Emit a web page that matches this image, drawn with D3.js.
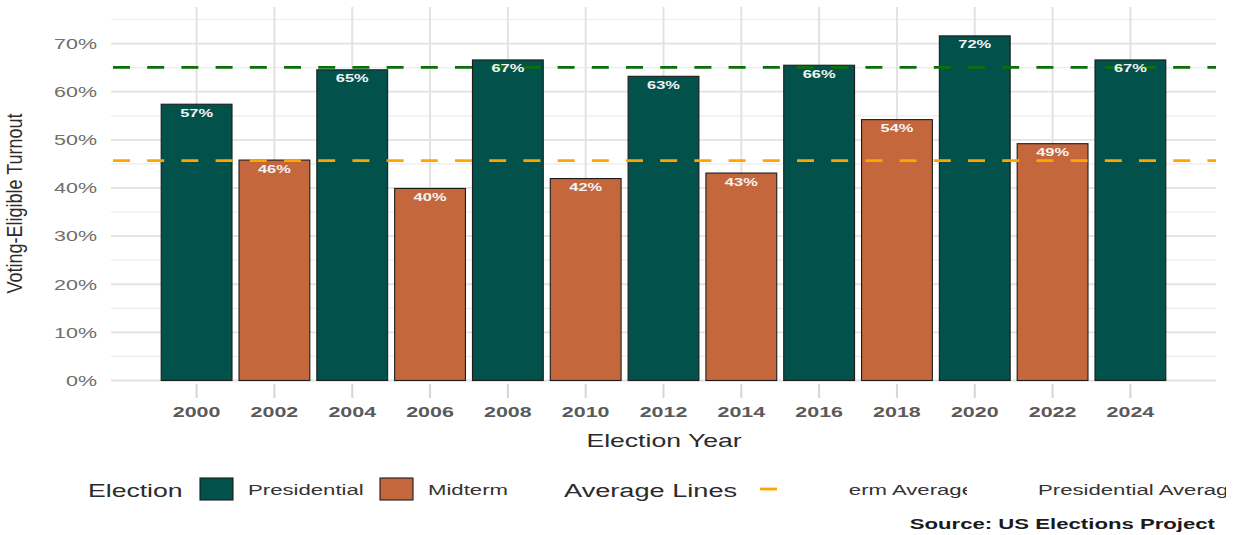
<!DOCTYPE html>
<html>
<head>
<meta charset="utf-8">
<script src="https://cdn.jsdelivr.net/npm/d3@7"></script>
<style>
  body { margin: 0; background: #fff; }
  svg { display: block; }
  text { font-family: "Liberation Sans", Arial, sans-serif; }
</style>
</head>
<body>
<svg id="chart" width="1237" height="535"></svg>
<script>
// data
var years = ["2000","2002","2004","2006","2008","2010","2012","2014","2016","2018","2020","2022","2024"];
var turnout = [57.4, 45.8, 64.55, 39.9, 66.6, 41.96, 63.2, 43.1, 65.5, 54.2, 71.6, 49.2, 66.6];
var electionType = ["Presidential","Midterm","Presidential","Midterm","Presidential","Midterm","Presidential","Midterm","Presidential","Midterm","Presidential","Midterm","Presidential"];
var yTicks = [0, 10, 20, 30, 40, 50, 60, 70];
var yMinor = [5, 15, 25, 35, 45, 55, 65, 75];
var typeNames = ["Presidential", "Midterm"];
var typeColors = ["#02524B", "#C4673D"];

var SX = 1.43; // the picture is stretched sideways
var svg = d3.select("#chart");

var x = d3.scaleBand().domain(years).range([111, 1216]).paddingInner(0.09).paddingOuter(0.645);
var y = d3.scaleLinear().domain([0, 77.6]).range([380.5, 7]);
var fill = d3.scaleOrdinal().domain(typeNames).range(typeColors);

var rows = years.map(function(yr, i) {
  return {year: yr, value: turnout[i], type: electionType[i]};
});

var presAvg = d3.mean(rows.filter(function(d) { return d.type == "Presidential"; }), function(d) { return d.value; });
var midAvg = d3.mean(rows.filter(function(d) { return d.type == "Midterm"; }), function(d) { return d.value; });

// stretched text helper
var stxt = function(g, px, py, str, size, opts) {
  opts = opts || {};
  var parent = g;
  if(opts.clip) parent = g.append("g").attr("clip-path", "url(#" + opts.clip + ")");
  return parent.append("text")
    .attr("transform", "translate(" + px + "," + py + ") scale(" + (opts.sx || SX) + ",1)" + (opts.rotate ? " rotate(" + opts.rotate + ")" : ""))
    .attr("font-size", size)
    .attr("fill", opts.color || "#333")
    .attr("text-anchor", opts.anchor || "start")
    .attr("font-weight", opts.bold ? "bold" : "normal")
    .text(str);
};

var defs = svg.append("defs");
defs.append("clipPath").attr("id", "clipMid").append("rect")
  .attr("x", 849).attr("y", 470).attr("width", 118).attr("height", 40);
defs.append("clipPath").attr("id", "clipPres").append("rect")
  .attr("x", 1030).attr("y", 470).attr("width", 196).attr("height", 40);

// grid
var grid = svg.append("g");
grid.selectAll(".minor").data(yMinor).enter().append("line")
  .attr("x1", 111).attr("x2", 1216)
  .attr("y1", function(d) { return y(d); }).attr("y2", function(d) { return y(d); })
  .attr("stroke", "#ececec").attr("stroke-width", 1.2);
grid.selectAll(".major").data(yTicks).enter().append("line")
  .attr("x1", 111).attr("x2", 1216)
  .attr("y1", function(d) { return y(d); }).attr("y2", function(d) { return y(d); })
  .attr("stroke", "#e2e2e2").attr("stroke-width", 1.8);
grid.selectAll(".vert").data(years).enter().append("line")
  .attr("x1", function(d) { return x(d) + x.bandwidth()/2; })
  .attr("x2", function(d) { return x(d) + x.bandwidth()/2; })
  .attr("y1", 7).attr("y2", 380.5)
  .attr("stroke", "#e2e2e2").attr("stroke-width", 2);
grid.selectAll(".tick").data(years).enter().append("line")
  .attr("x1", function(d) { return x(d) + x.bandwidth()/2; })
  .attr("x2", function(d) { return x(d) + x.bandwidth()/2; })
  .attr("y1", 384).attr("y2", 398)
  .attr("stroke", "#d6d6d6").attr("stroke-width", 2);

// bars
svg.append("g").selectAll("rect").data(rows).enter().append("rect")
  .attr("x", function(d) { return x(d.year); })
  .attr("width", x.bandwidth())
  .attr("y", function(d) { return y(d.value); })
  .attr("height", function(d) { return y(0) - y(d.value); })
  .attr("fill", function(d) { return fill(d.type); })
  .attr("stroke", "#1c1c1c").attr("stroke-width", 1.1);

// average lines
var avgs = [{v: midAvg, c: "#FFA500"}, {v: presAvg, c: "#0B700B"}];
svg.append("g").selectAll("line").data(avgs).enter().append("line")
  .attr("x1", 111).attr("x2", 1216)
  .attr("y1", function(d) { return y(d.v); }).attr("y2", function(d) { return y(d.v); })
  .attr("stroke", function(d) { return d.c; })
  .attr("stroke-width", 2.8)
  .attr("stroke-dasharray", "17,17.2")
  .attr("stroke-dashoffset", -2);

// bar labels
var lab = svg.append("g");
rows.forEach(function(d) {
  stxt(lab, x(d.year) + x.bandwidth()/2, y(d.value) + 12.5, Math.round(d.value) + "%", 11.5,
    {anchor: "middle", bold: true, color: "#f4f4f4"});
});

// y axis labels
var ax = svg.append("g");
yTicks.forEach(function(t) {
  stxt(ax, 97, y(t) + 5.3, t + "%", 15, {anchor: "end", color: "#6e6e6e"});
});
years.forEach(function(yr) {
  stxt(ax, x(yr) + x.bandwidth()/2, 417, yr, 15, {anchor: "middle", bold: true, color: "#5a5a5a"});
});

// axis titles
stxt(svg, 664, 447, "Election Year", 18.6, {anchor: "middle", color: "#2b2b2b"});
stxt(svg, 22, 203.5, "Voting-Eligible Turnout", 18, {anchor: "middle", color: "#2b2b2b", rotate: -90, sx: 1.25});

// legend
var leg = svg.append("g");
stxt(leg, 88, 497, "Election", 18.6, {color: "#2b2b2b"});
var keyX = [200, 380];
typeNames.forEach(function(n, i) {
  leg.append("rect")
    .attr("x", keyX[i]).attr("y", 478).attr("width", 33).attr("height", 22)
    .attr("fill", fill(n)).attr("stroke", "#1c1c1c").attr("stroke-width", 1.1);
  stxt(leg, keyX[i] + 48, 495, n, 15.5, {color: "#333"});
});
stxt(leg, 564, 497, "Average Lines", 19, {color: "#2b2b2b"});
leg.append("line")
  .attr("x1", 760).attr("x2", 777).attr("y1", 489).attr("y2", 489)
  .attr("stroke", "#FFA500").attr("stroke-width", 2.8);
stxt(leg, 807, 495, "Midterm Average", 15.5, {color: "#333", clip: "clipMid"});
stxt(leg, 1038, 495, "Presidential Average", 15.5, {color: "#333", clip: "clipPres"});

// caption
stxt(svg, 1215, 529, "Source: US Elections Project", 15.5, {anchor: "end", bold: true, color: "#1a1a1a"});
</script>
</body>
</html>
